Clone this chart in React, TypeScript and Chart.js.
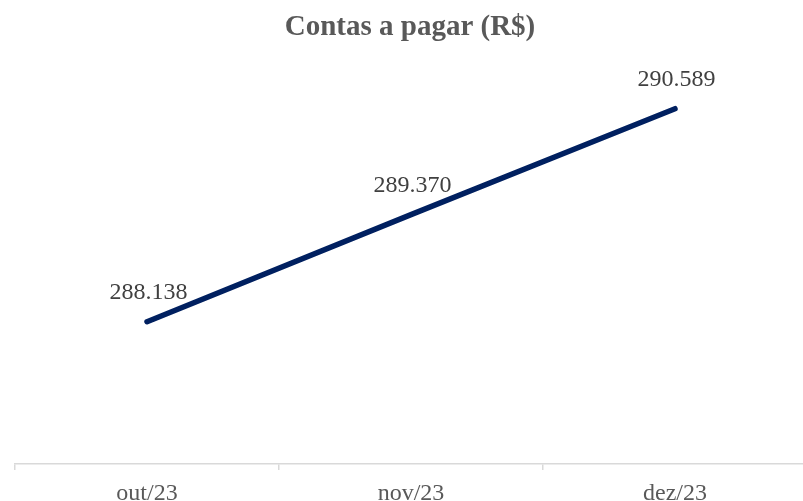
import React, { useEffect, useRef } from "react";
import { Chart, registerables } from "chart.js";

Chart.register(...registerables);

const categories = ["out/23", "nov/23", "dez/23"];
const values = [288138, 289370, 290589];
const titleText = "Contas a pagar (R$)";

const fmt = (v: number) => v.toLocaleString("de-DE");

export default function App() {
  const ref = useRef<HTMLCanvasElement | null>(null);
  useEffect(() => {
    if (!ref.current) return;
    const titlePlugin = {
      id: "customTitle",
      afterDraw(chart: any) {
        const ctx = chart.ctx;
        ctx.save();
        ctx.font = "bold 29px 'Liberation Serif'";
        ctx.fillStyle = "#595959";
        ctx.textAlign = "center";
        ctx.textBaseline = "alphabetic";
        ctx.fillText(titleText, 410, 35);
        ctx.restore();
      },
    };
    const labelPlugin = {
      id: "dataLabels",
      afterDatasetsDraw(chart: any) {
        const ctx = chart.ctx;
        const meta = chart.getDatasetMeta(0);
        ctx.save();
        ctx.font = "24px 'Liberation Serif'";
        ctx.fillStyle = "#404040";
        ctx.textAlign = "center";
        ctx.textBaseline = "alphabetic";
        meta.data.forEach((pt: any, i: number) => {
          ctx.fillText(fmt(values[i]), pt.x + 1.5, pt.y - 23);
        });
        ctx.restore();
      },
    };
    const chart = new Chart(ref.current, {
      type: "line",
      data: {
        labels: categories,
        datasets: [
          {
            data: values,
            borderColor: "#002060",
            borderWidth: 5.5,
            borderCapStyle: "round",
            pointRadius: 0,
            pointHoverRadius: 0,
            tension: 0,
            fill: false,
          },
        ],
      },
      options: {
        animation: false,
        responsive: false,
        devicePixelRatio: 1,
        layout: { padding: { left: 15, right: 1, top: 73, bottom: 0 } },
        plugins: {
          legend: { display: false },
          tooltip: { enabled: false },
          title: { display: false },
        },
        scales: {
          x: {
            offset: true,
            afterFit: (scale: any) => {
              scale.height = 37;
            },
            grid: {
              offset: true,
              display: true,
              drawOnChartArea: false,
              drawTicks: true,
              tickLength: 6,
              color: "#d9d9d9",
              lineWidth: 1.5,
            },
            border: { display: true, color: "#d9d9d9", width: 1.5 },
            ticks: {
              color: "#595959",
              font: { family: "'Liberation Serif'", size: 24 },
              padding: 9,
              maxRotation: 0,
              autoSkip: false,
            },
          },
          y: {
            display: false,
            min: 286500,
            max: 291000,
          },
        },
      },
      plugins: [titlePlugin, labelPlugin],
    });
    return () => chart.destroy();
  }, []);
  return (
    <div
      style={{
        position: "fixed",
        left: 0,
        top: 0,
        width: 803,
        height: 501,
        overflow: "hidden",
        background: "#fff",
      }}
    >
      <canvas ref={ref} width={808} height={501} style={{ display: "block" }} />
    </div>
  );
}
